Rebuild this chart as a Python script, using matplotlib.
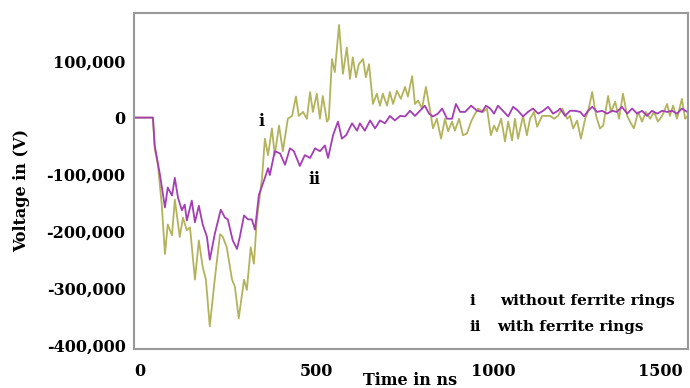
import matplotlib.pyplot as plt
from matplotlib.transforms import offset_copy

# Time (ns) and voltage (kV) samples, trace i: without ferrite rings
t_without = [-17, 37, 42, 51, 62, 71, 79, 91, 99, 113, 122, 133, 142, 156, 167, 178, 187,
             198, 212, 227, 235, 246, 261, 269, 280, 295, 303, 314, 323, 331, 346, 354,
             363, 374, 382, 394, 405, 419, 431, 442, 450, 462, 473, 482, 490, 501, 510,
             518, 530, 535, 544, 552, 564, 575, 586, 595, 603, 612, 620, 632, 640, 649,
             660, 671, 680, 688, 700, 708, 717, 728, 739, 751, 759, 771, 779, 788, 799,
             810, 822, 830, 841, 853, 864, 873, 884, 892, 904, 915, 926, 938, 946, 958,
             972, 983, 994, 1003, 1011, 1023, 1034, 1043, 1054, 1062, 1071, 1085, 1096,
             1105, 1116, 1125, 1139, 1147, 1162, 1173, 1184, 1196, 1210, 1218, 1227, 1238,
             1249, 1261, 1269, 1281, 1292, 1303, 1312, 1326, 1334, 1346, 1357, 1368, 1380,
             1388, 1399, 1411, 1422, 1433, 1445, 1456, 1467, 1479, 1493, 1501, 1510, 1521,
             1535, 1544, 1552]
v_without = [0, 0, -54, -83, -153, -240, -188, -207, -144, -210, -176, -198, -193, -285,
             -216, -263, -285, -367, -285, -205, -210, -228, -285, -297, -353, -285, -303,
             -228, -257, -181, -106, -37, -66, -19, -66, -14, -59, -2, 3, 37, 3, 10, -2,
             45, 10, 42, -2, 38, -7, -2, 103, 80, 163, 77, 123, 68, 106, 71, 94, 103, 71,
             94, 24, 42, 21, 42, 21, 45, 24, 47, 33, 54, 37, 73, 24, 30, 16, 54, 12, -19,
             -2, -37, -2, -24, -7, -23, -2, -31, -28, -7, 3, 16, 10, 16, -31, -14, -24, -2,
             -42, -7, -40, -2, -37, 3, -31, -2, 10, -16, 3, 3, 3, -2, 3, 16, -2, 3, -19, -5,
             -37, -2, 10, 45, 3, -19, -14, 38, 10, 28, -2, 42, 3, -7, -19, 10, -7, 10, -2,
             10, -7, 3, 24, 3, 21, -2, 33, -2, 3]

# trace ii: with ferrite rings
t_with = [-17, 37, 42, 57, 71, 79, 91, 99, 108, 119, 127, 133, 147, 156, 167, 178, 190,
          198, 212, 229, 241, 249, 263, 275, 283, 295, 306, 317, 326, 337, 354, 363, 368,
          382, 397, 411, 425, 436, 453, 467, 482, 496, 510, 524, 533, 547, 561, 572, 584,
          601, 615, 623, 637, 652, 666, 680, 694, 708, 722, 737, 751, 765, 779, 793, 807,
          819, 830, 844, 856, 870, 884, 895, 907, 921, 938, 955, 969, 980, 992, 1003, 1014,
          1028, 1043, 1057, 1071, 1085, 1099, 1113, 1128, 1142, 1156, 1170, 1184, 1190,
          1204, 1218, 1232, 1247, 1258, 1269, 1281, 1295, 1309, 1323, 1337, 1351, 1365,
          1380, 1394, 1408, 1422, 1436, 1450, 1465, 1479, 1493, 1507, 1521, 1535, 1550]
v_with = [0, 0, -49, -101, -158, -123, -137, -106, -141, -163, -153, -181, -146, -184,
          -155, -188, -210, -250, -205, -162, -176, -179, -216, -231, -210, -172, -179,
          -179, -197, -136, -106, -89, -101, -59, -63, -83, -54, -59, -85, -66, -71, -54,
          -59, -49, -71, -31, -7, -37, -31, -10, -23, -10, -23, -5, -19, -5, -10, 3, -5,
          3, 2, 12, 3, 12, 21, 7, 2, 7, 16, -2, -2, 24, 10, 10, 21, 12, 10, 21, 16, 7, 21,
          12, 2, 19, 12, 2, 10, 16, 7, 12, 19, 7, 12, 16, 3, 12, 12, 10, 2, 12, 19, 10,
          12, 7, 12, 10, 19, 7, 16, 7, 12, 3, 12, 7, 12, 10, 12, 7, 16, 10]

x_ticks = [0, 500, 1000, 1500]
y_ticks = [100000, 0, -100000, -200000, -300000, -400000]
y_labels = ['100,000', '0', '-100,000', '-200,000', '-300,000', '-400,000']

serif = 'DejaVu Serif'

fig = plt.figure(figsize=(6.9, 3.88), dpi=100)
ax = fig.add_axes([0.194, 0.1005, 0.803, 0.866])

ax.plot(t_without, [v * 1000 for v in v_without], color='#b3b35c', linewidth=1.3)
ax.plot(t_with, [v * 1000 for v in v_with], color='#a53db5', linewidth=1.3)

ax.set_xlim(-17, 1552)
ax.set_ylim(-407000, 184000)

ax.set_xticks(x_ticks)
ax.set_xticklabels([str(x) for x in x_ticks])
ax.set_yticks(y_ticks)
ax.set_yticklabels(y_labels)
ax.tick_params(length=0, pad=6)
ax.tick_params(axis='x', pad=10)
for lbl in ax.get_xticklabels() + ax.get_yticklabels():
    lbl.set_fontfamily(serif)
    lbl.set_fontweight('bold')
    lbl.set_fontsize(11.5)

# pull the last x label in so it stays inside the figure
last = ax.get_xticklabels()[-1]
last.set_transform(offset_copy(last.get_transform(), fig=fig, x=-9, units='dots'))

for s in ax.spines.values():
    s.set_color('#999999')
    s.set_linewidth(1.5)

# curve tags
ax.text(345, -7000, 'i', family=serif, fontweight='bold', fontsize=11.5,
        ha='center', va='center')
ax.text(495, -108000, 'ii', family=serif, fontweight='bold', fontsize=11.5,
        ha='center', va='center')

# key in lower right
ax.text(0.606, 0.143, 'i', transform=ax.transAxes, family=serif,
        fontweight='bold', fontsize=11, va='center')
ax.text(0.661, 0.143, 'without ferrite rings', transform=ax.transAxes,
        family=serif, fontweight='bold', fontsize=11, va='center')
ax.text(0.606, 0.065, 'ii', transform=ax.transAxes, family=serif,
        fontweight='bold', fontsize=11, va='center')
ax.text(0.655, 0.065, 'with ferrite rings', transform=ax.transAxes,
        family=serif, fontweight='bold', fontsize=11, va='center')

fig.text(0.594, 0.02, 'Time in ns', family=serif, fontweight='bold',
         fontsize=11.5, ha='center', va='center')
fig.text(0.032, 0.51, 'Voltage in (V)', family=serif, fontweight='bold',
         fontsize=11.5, ha='center', va='center', rotation=90)

plt.savefig('out.png', dpi=100)
